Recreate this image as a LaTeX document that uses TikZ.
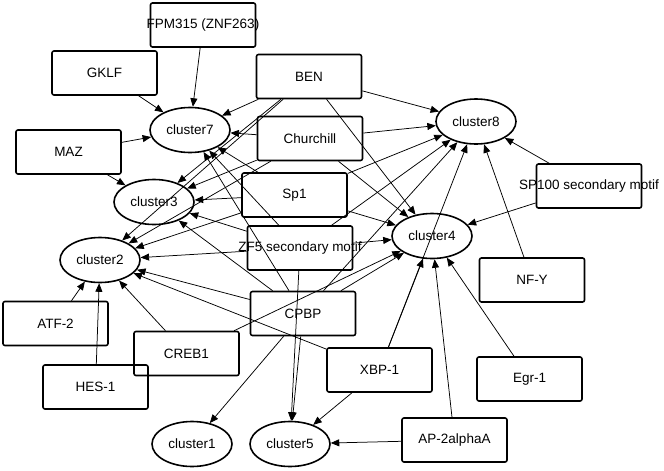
\documentclass[tikz,border=0pt]{standalone}
\usepackage{fontspec}
\setmainfont{Liberation Sans}
\usetikzlibrary{arrows.meta,shapes.geometric}
\begin{document}
\begin{tikzpicture}[x=1pt,y=-1pt,
  tf/.style={draw=black,line width=1.6pt,rounded corners=2pt,minimum width=105pt,minimum height=44pt,inner sep=0pt,font=\fontsize{13.5}{15}\selectfont},
  cl/.style={draw=black,line width=1.6pt,ellipse,minimum width=80pt,minimum height=45pt,inner sep=0pt,font=\fontsize{13.5}{15}\selectfont},
  arr/.style={-{Triangle[length=8.5pt,width=7pt]},line width=0.75pt,draw=black}]
\useasboundingbox (0,0) rectangle (664,471);
% transcription factors
\node[tf] (ppm) at (203,25) {\makebox[0pt]{FPM315 (ZNF263)}};
\node[tf] (gklf) at (104.5,73) {GKLF};
\node[tf] (ben) at (309,76.5) {BEN};
\node[tf] (maz) at (68.5,152) {MAZ};
\node[tf] (church) at (310,138.5) {Churchill};
\node[tf] (sp1) at (294.5,195) {Sp1};
\node[tf] (zf5) at (300,248) {\makebox[0pt]{ZF5 secondary motif}};
\node[tf] (cpbp) at (303,313.5) {CPBP};
\node[tf] (xbp) at (379.5,370) {XBP-1};
\node[tf] (ap2) at (454.5,440) {AP-2alphaA};
\node[tf] (egr) at (529.5,379) {Egr-1};
\node[tf] (nfy) at (532,280) {NF-Y};
\node[tf] (sp100) at (589,186) {\makebox[0pt]{SP100 secondary motif}};
\node[tf] (atf) at (55.5,323.5) {ATF-2};
\node[tf] (creb) at (186.5,353.5) {CREB1};
\node[tf] (hes) at (95.5,387) {HES-1};
% clusters
\node[cl] (c7) at (190,130) {cluster7};
\node[cl] (c3) at (154,202) {cluster3};
\node[cl] (c2) at (100,260) {cluster2};
\node[cl] (c8) at (476,121.5) {cluster8};
\node[cl] (c4) at (432,236) {cluster4};
\node[cl] (c1) at (192,444) {cluster1};
\node[cl] (c5) at (290,444) {cluster5};
% edges
\foreach \s in {gklf,ppm,ben,maz,church,sp1,zf5,cpbp} \draw[arr] (\s) -- (c7);
\foreach \s in {maz,ben,church,sp1,zf5,cpbp} \draw[arr] (\s) -- (c3);
\foreach \s in {ben,church,sp1,zf5,cpbp,xbp,atf,hes,creb} \draw[arr] (\s) -- (c2);
\foreach \s in {ben,church,sp1,zf5,cpbp,xbp,nfy,sp100} \draw[arr] (\s) -- (c8);
\foreach \s in {ben,church,sp1,zf5,cpbp,creb,xbp,ap2,egr,sp100} \draw[arr] (\s) -- (c4);
\draw[arr] (cpbp) -- (c1);
\foreach \s in {zf5,cpbp,xbp,ap2} \draw[arr] (\s) -- (c5);
\end{tikzpicture}
\end{document}
